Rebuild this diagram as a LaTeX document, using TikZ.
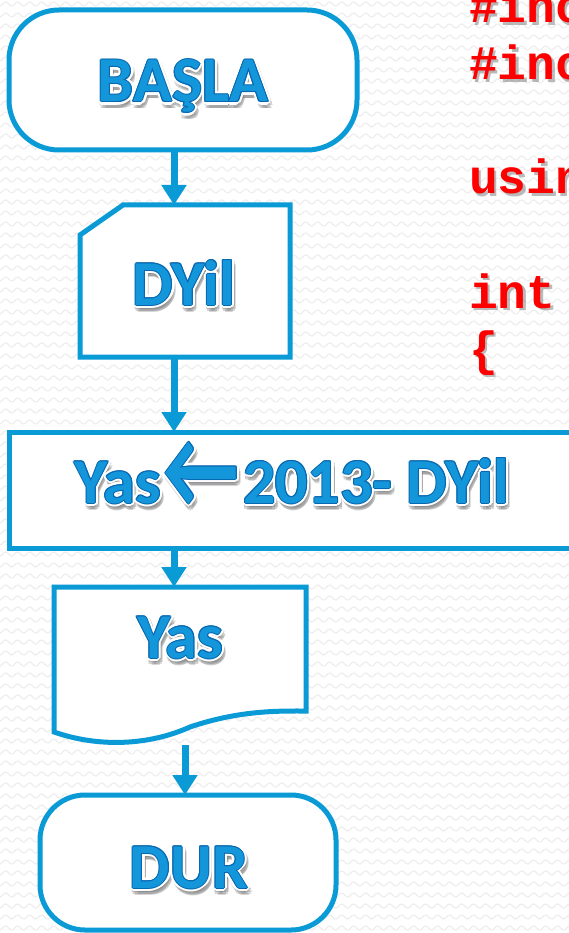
\documentclass[tikz,border=0pt]{standalone}
\usepackage{fontspec}
\usetikzlibrary{arrows.meta,calc,decorations.pathmorphing}

\newfontfamily\labelfont{Carlito}
\newfontfamily\codefont{Liberation Mono}

\definecolor{flowblue}{HTML}{0A9BD7}
\definecolor{edgeblue}{HTML}{0767B0}
\definecolor{fillblue}{HTML}{1496DA}
\definecolor{shade}{HTML}{7A7A7A}
\definecolor{codered}{HTML}{FF0000}
\definecolor{bgwave}{HTML}{EEEEEE}

% left arrow used inside the assignment label, enlarged
\newcommand\assignarrow{\hspace{3pt}\raisebox{-4pt}{\scalebox{1.3}[1.75]{←}}\hspace{4pt}}

% embossed label: soft shadow, white rim, dark edge, blue face
\newcommand\glowlabel[3]{%
  \foreach \a in {0,45,...,315}
    \node[lbl, text=shade, opacity=0.3] at ($(#2)+(\a:3)+(2,4)$) {#3};
  \foreach \a in {0,30,...,330}
    \node[lbl, text=white] at ($(#2)+(\a:3.2)$) {#3};
  \foreach \a in {0,45,...,315}
    \node[lbl, text=edgeblue] at ($(#2)+(\a:1)$) {#3};
  \node[lbl, text=fillblue] (#1) at (#2) {#3};
}

% one line of red source code with its shadow
\newcommand\codeline[3]{%
  \node[code, text=black!60, opacity=0.45] at (471.5,#2+2.5) {#3};
  \node[code, text=codered] (#1) at (469,#2) {#3};
}

\begin{document}
\begin{tikzpicture}[x=1pt,y=-1pt,
  lbl/.style={anchor=base, inner sep=0pt, outer sep=0pt,
    font=\labelfont\bfseries\fontsize{64}{64}\selectfont},
  code/.style={anchor=base west, inner sep=0pt, outer sep=0pt,
    font=\codefont\bfseries\fontsize{48}{48}\selectfont},
  box/.style={draw=flowblue, line width=5pt, fill=white,
    inner sep=0pt, outer sep=0pt},
  frame/.style={inner sep=0pt, outer sep=0pt},
  arr/.style={draw=flowblue, line width=7pt,
    -{Triangle[width=24pt,length=20pt]}, flowblue},
  wave/.style={draw=bgwave, line width=1.2pt, decorate,
    decoration={snake, segment length=12pt, amplitude=2pt}}
]
\useasboundingbox (0,0) rectangle (569,933);

% patterned background
\fill[white] (0,0) rectangle (569,933);
\begin{scope}
  \clip (0,0) rectangle (569,933);
  \foreach \r in {0,...,85}
    \draw[wave] (-10,{4+11*\r}) -- (580,{4+11*\r});
\end{scope}

% source code column
\codeline{c1}{23}{\#inc}
\codeline{c2}{80}{\#inc}
\codeline{c3}{194}{usin}
\codeline{c4}{308}{int}
\codeline{c5}{365}{\{}

% flowchart shapes
\node[box, rounded corners=50pt, minimum width=348pt, minimum height=140pt]
  (basla) at (183,80) {};

\node[frame, minimum width=210pt, minimum height=152pt] (dyil) at (185,281) {};
\filldraw[box] (dyil.south west) -- ($(dyil.north west)+(0,30)$)
  -- ($(dyil.north west)+(43,0)$) -- (dyil.north east)
  -- (dyil.south east) -- cycle;

\node[box, minimum width=611pt, minimum height=116pt] (proc) at (314.5,490) {};

\node[frame, minimum width=252pt, minimum height=145pt] (doc) at (180,659.5) {};
\filldraw[box] (doc.south west) -- (doc.north west) -- (doc.north east)
  -- ($(doc.south east)+(0,-21)$)
  .. controls (280,711) and (240,710) .. (190,727)
  .. controls (150,745) and (100,748) .. (doc.south west) -- cycle;

\node[box, rounded corners=45pt, minimum width=296pt, minimum height=135pt]
  (dur) at (188,862.5) {};

% labels
\coordinate (p1) at (183,102);
\coordinate (p2) at (184,305);
\coordinate (p3) at (292,503);
\coordinate (p4) at (180,658);
\coordinate (p5) at (189,888);
\glowlabel{t-basla}{p1}{BAŞLA}
\glowlabel{t-dyil}{p2}{DYil}
\glowlabel{t-proc}{p3}{Yas\assignarrow2013- DYil}
\glowlabel{t-doc}{p4}{Yas}
\glowlabel{t-dur}{p5}{DUR}

% connectors
\coordinate (ax) at (174,0);
\coordinate (a4) at (185,745);
\draw[arr] (basla.south -| ax) -- (dyil.north -| ax);
\draw[arr] (dyil.south -| ax) -- (proc.north -| ax);
\draw[arr] (proc.south -| ax) -- (doc.north -| ax);
\draw[arr] (a4) -- (dur.north -| a4);
\end{tikzpicture}
\end{document}
